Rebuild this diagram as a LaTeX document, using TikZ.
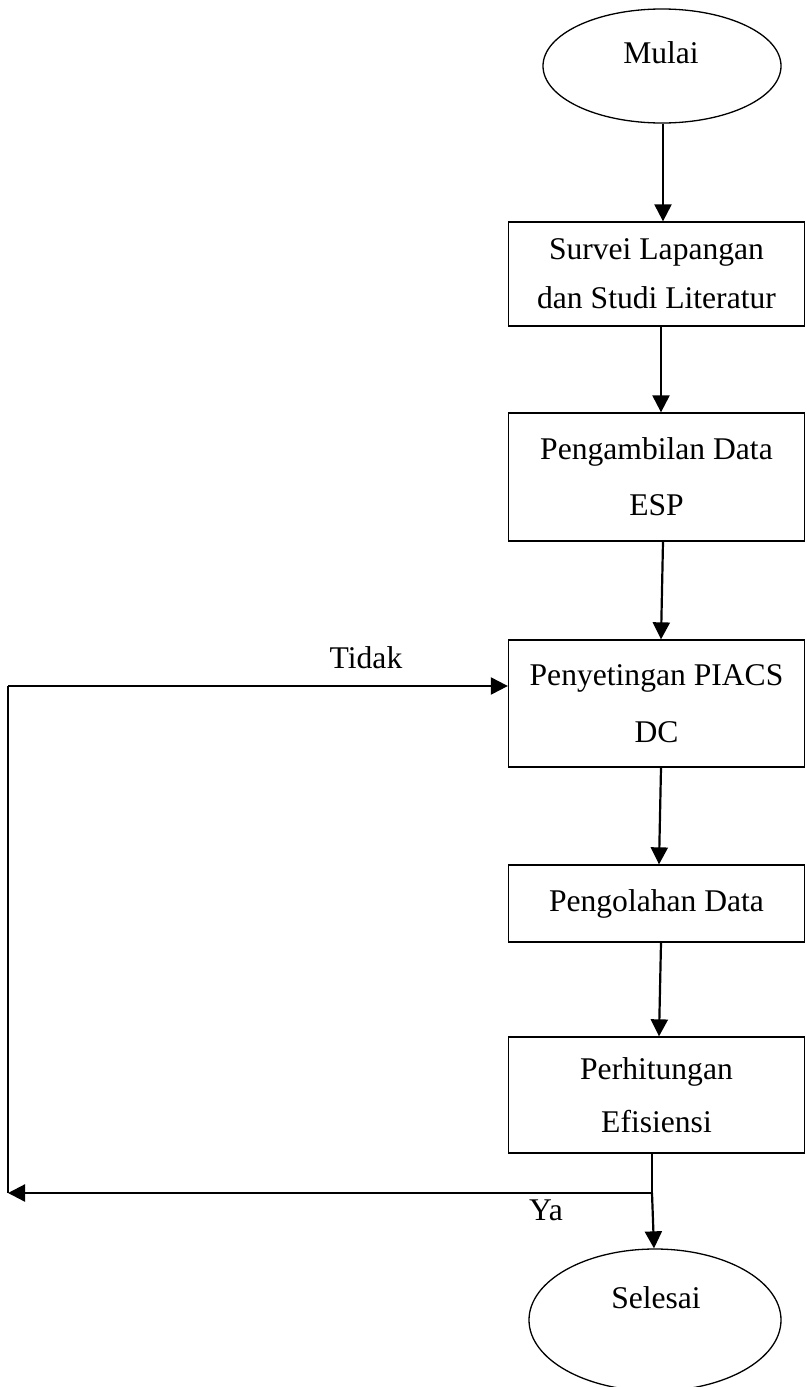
\documentclass[tikz,border=0pt]{standalone}
\usepackage{fontspec}
\setmainfont{Liberation Serif}
\usetikzlibrary{shapes.geometric,arrows.meta}
\begin{document}
\begin{tikzpicture}[x=1pt,y=-1pt,
  box/.style={draw,line width=1.3pt,minimum width=296pt,inner sep=0pt,align=center},
  oval/.style={draw,ellipse,line width=1.3pt,inner sep=0pt},
  lbl/.style={font=\fontsize{31.6}{38}\selectfont,inner sep=0pt,anchor=base},
  arr/.style={line width=2.2pt,-{Triangle[length=17pt,width=17pt]}},
  ln/.style={line width=2.2pt}]
\useasboundingbox (0,0) rectangle (806,1387);
% start / end
\node[oval,minimum width=238pt,minimum height=114pt] (mulai) at (662,66) {};
\node[lbl] (tmulai) at (661,63) {Mulai};
\node[oval,minimum width=252pt,minimum height=142pt] (selesai) at (655,1320) {};
\node[lbl] (tselesai) at (656,1308) {Selesai};
% process boxes
\node[box,minimum height=104pt,font=\fontsize{31.6}{49}\selectfont] (survei) at (656.5,274) {Survei Lapangan\\dan Studi Literatur};
\node[box,minimum height=128pt,font=\fontsize{31.6}{56}\selectfont] (ambil) at (656.5,477) {Pengambilan Data\\ESP};
\node[box,minimum height=127pt,font=\fontsize{31.6}{57}\selectfont] (setting) at (656.5,703.5) {Penyetingan PIACS\\DC};
\node[box,minimum height=77pt,font=\fontsize{31.6}{38}\selectfont] (olah) at (656.5,903.5) {Pengolahan Data};
\node[box,minimum height=116pt,font=\fontsize{31.6}{53}\selectfont] (hitung) at (656.5,1095) {Perhitungan\\Efisiensi};
% main flow
\draw[arr] (mulai.south -| 663,0) -- (663,0 |- survei.north);
\draw[arr] ([xshift=4.5pt]survei.south) -- ([xshift=4.5pt]ambil.north);
\draw[arr] ([xshift=6.5pt]ambil.south) -- ([xshift=4.5pt]setting.north);
\draw[arr] ([xshift=4.5pt]setting.south) -- ([xshift=2.5pt]olah.north);
\draw[arr] ([xshift=4.5pt]olah.south) -- ([xshift=2.5pt]hitung.north);
% decision / loop
\coordinate (jn) at (652,1193);
\coordinate (bl) at (8,1193);
\coordinate (tl) at (8,686);
\draw[ln] (hitung.south -| jn) -- (jn);
\draw[arr] (jn) -- (bl);
\draw[ln] (bl) -- (tl);
\draw[arr] (tl) -- (tl -| setting.west);
\draw[arr] (jn) -- ([xshift=-1pt]selesai.north);
\node[lbl] (tidak) at (366,668) {Tidak};
\node[lbl] (ya) at (546,1220) {Ya};
\end{tikzpicture}
\end{document}
